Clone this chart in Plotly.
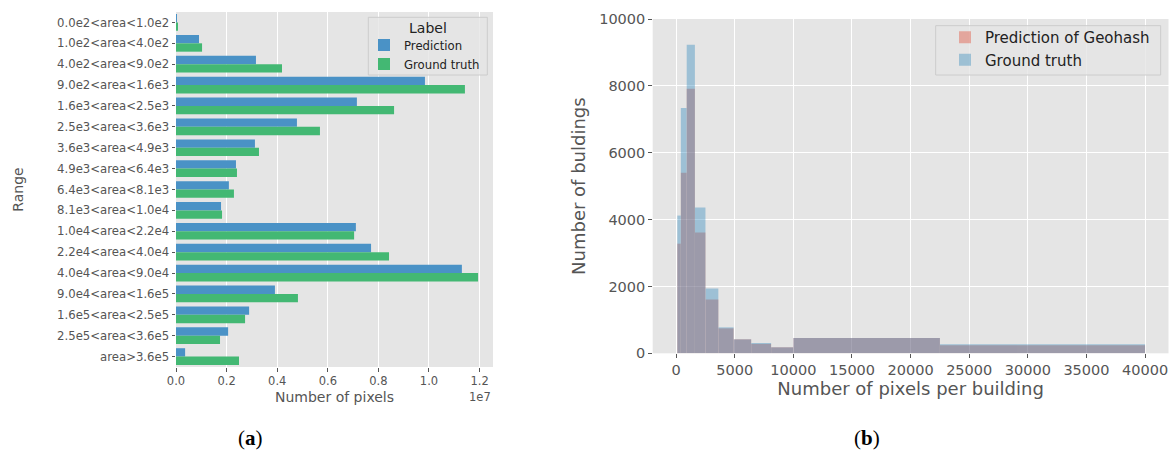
import plotly.graph_objects as go

# ---------------- data: left panel (a) ----------------
ranges = ["0.0e2<area<1.0e2", "1.0e2<area<4.0e2", "4.0e2<area<9.0e2", "9.0e2<area<1.6e3",
          "1.6e3<area<2.5e3", "2.5e3<area<3.6e3", "3.6e3<area<4.9e3", "4.9e3<area<6.4e3",
          "6.4e3<area<8.1e3", "8.1e3<area<1.0e4", "1.0e4<area<2.2e4", "2.2e4<area<4.0e4",
          "4.0e4<area<9.0e4", "9.0e4<area<1.6e5", "1.6e5<area<2.5e5", "2.5e5<area<3.6e5",
          "area>3.6e5"]
prediction_pixels = [0.02e6, 0.91e6, 3.16e6, 9.84e6, 7.15e6, 4.78e6, 3.12e6, 2.37e6, 2.09e6,
                     1.78e6, 7.11e6, 7.71e6, 11.30e6, 3.91e6, 2.89e6, 2.06e6, 0.36e6]
groundtruth_pixels = [0.06e6, 1.03e6, 4.19e6, 11.42e6, 8.62e6, 5.69e6, 3.28e6, 2.41e6, 2.29e6,
                      1.82e6, 7.04e6, 8.42e6, 11.94e6, 4.82e6, 2.73e6, 1.74e6, 2.49e6]
left_xticks = [0, 0.2e7, 0.4e7, 0.6e7, 0.8e7, 1.0e7, 1.2e7]
left_xticklabels = ["0.0", "0.2", "0.4", "0.6", "0.8", "1.0", "1.2"]

# ---------------- data: right panel (b) ----------------
bin_edges = [100, 400, 900, 1600, 2500, 3600, 4900, 6400, 8100, 10000, 22500, 40000]
geohash_counts = [3280, 5400, 7910, 3610, 1610, 746, 418, 280, 179, 457, 239]
truth_counts = [4120, 7340, 9230, 4360, 1940, 776, 418, 308, 179, 457, 269]
right_xticks = [0, 5000, 10000, 15000, 20000, 25000, 30000, 35000, 40000]
right_yticks = [0, 2000, 4000, 6000, 8000, 10000]

BLUE = "#4A92C6"
GREEN = "#43B873"
RED = "#E24A33"
HBLUE = "#348ABD"
BG = "#E5E5E5"
TXT = "#555555"
FONT = "DejaVu Sans"

fig = go.Figure()

# left grouped horizontal bars
fig.add_trace(go.Bar(
    y=ranges, x=prediction_pixels, orientation="h", name="Prediction",
    marker=dict(color=BLUE, line=dict(width=0)), width=0.4, offset=-0.4,
    xaxis="x", yaxis="y", legend="legend"))
fig.add_trace(go.Bar(
    y=ranges, x=groundtruth_pixels, orientation="h", name="Ground truth",
    marker=dict(color=GREEN, line=dict(width=0)), width=0.4, offset=0.0,
    xaxis="x", yaxis="y", legend="legend"))

# right overlaid histogram (variable bin widths)
widths = [b - a for a, b in zip(bin_edges[:-1], bin_edges[1:])]
fig.add_trace(go.Bar(
    x=bin_edges[:-1], y=geohash_counts, width=widths, offset=0,
    name="Prediction of Geohash", marker=dict(color=RED, line=dict(width=0)),
    opacity=0.4, xaxis="x2", yaxis="y2", legend="legend2"))
fig.add_trace(go.Bar(
    x=bin_edges[:-1], y=truth_counts, width=widths, offset=0,
    name="Ground truth", marker=dict(color=HBLUE, line=dict(width=0)),
    opacity=0.4, xaxis="x2", yaxis="y2", legend="legend2"))

W, H = 1173, 454

def px_x(p):
    return p / W

def px_y(p):
    return 1 - p / H

# legend frames (matplotlib-style boxes)
legend_boxes = [
    dict(type="rect", xref="paper", yref="paper",
         x0=px_x(368.3), x1=px_x(487.3), y0=px_y(75), y1=px_y(17.3),
         fillcolor="rgba(229,229,229,0.8)", line=dict(color="#CCCCCC", width=1), layer="above"),
    dict(type="rect", xref="paper", yref="paper",
         x0=px_x(935.7), x1=px_x(1160.7), y0=px_y(75), y1=px_y(25.7),
         fillcolor="rgba(229,229,229,0.8)", line=dict(color="#CCCCCC", width=1), layer="above"),
]

fig.update_layout(
    width=W, height=H, autosize=False,
    margin=dict(l=0, r=0, t=0, b=0, pad=0, autoexpand=False),
    paper_bgcolor="white", plot_bgcolor=BG,
    font=dict(family=FONT, color=TXT),
    barmode="overlay",
    xaxis=dict(
        domain=[px_x(176), px_x(493)], anchor="y", automargin=False,
        range=[0, 1.253e7], tickvals=left_xticks, ticktext=left_xticklabels,
        showgrid=True, gridcolor="white", gridwidth=1.3, zeroline=False,
        ticks="outside", ticklen=3.5, tickcolor=TXT, tickwidth=1,
        tickfont=dict(size=11.5, color=TXT, family=FONT),
        title=dict(text="Number of pixels", font=dict(size=14, color=TXT, family=FONT), standoff=4),
        showline=False,
    ),
    yaxis=dict(
        domain=[px_y(367), px_y(12)], anchor="x", automargin=False,
        type="category", range=[16.5, -0.5],
        tickvals=ranges, ticktext=[r.replace("<", "&lt;").replace(">", "&gt;") for r in ranges],
        showgrid=False, zeroline=False,
        ticks="outside", ticklen=3.5, tickcolor=TXT, tickwidth=1,
        tickfont=dict(size=11.7, color=TXT, family=FONT),
        title=dict(text="Range", font=dict(size=14, color=TXT, family=FONT), standoff=30),
    ),
    xaxis2=dict(
        domain=[px_x(652.7), px_x(1168.5)], anchor="y2", automargin=False,
        range=[-2000, 42000], tickvals=right_xticks, tickformat="d",
        showgrid=True, gridcolor="white", gridwidth=1.3, zeroline=False,
        ticks="outside", ticklen=3.5, tickcolor=TXT, tickwidth=1,
        tickfont=dict(size=14.5, color=TXT, family=FONT),
        title=dict(text="Number of pixels per building", font=dict(size=18, color=TXT, family=FONT), standoff=2),
    ),
    yaxis2=dict(
        domain=[px_y(353.3), px_y(19)], anchor="x2", automargin=False,
        range=[0, 10000], tickvals=right_yticks, tickformat="d",
        showgrid=True, gridcolor="white", gridwidth=1.3, zeroline=False,
        ticks="outside", ticklen=3.5, tickcolor=TXT, tickwidth=1,
        tickfont=dict(size=14.5, color=TXT, family=FONT),
        title=dict(text="Number of buldings", font=dict(size=18, color=TXT, family=FONT), standoff=8),
    ),
    legend=dict(
        x=px_x(364), y=px_y(30.5), xanchor="left", yanchor="top",
        bgcolor="rgba(0,0,0,0)", borderwidth=0,
        font=dict(size=11.7, color="#222222", family=FONT),
        traceorder="normal", itemwidth=30, tracegroupgap=0,
    ),
    legend2=dict(
        x=px_x(945), y=px_y(21), xanchor="left", yanchor="top",
        bgcolor="rgba(0,0,0,0)", borderwidth=0,
        font=dict(size=15, color="#222222", family=FONT),
        traceorder="normal", itemwidth=30, tracegroupgap=0,
    ),
    shapes=legend_boxes,
    annotations=[
        dict(text="Label", x=px_x(427.8), y=px_y(28.5), xref="paper", yref="paper",
             xanchor="center", yanchor="middle", showarrow=False,
             font=dict(size=14, color="#222222", family=FONT)),
        dict(text="1e7", x=px_x(493), y=px_y(397), xref="paper", yref="paper",
             xanchor="right", yanchor="middle", showarrow=False,
             font=dict(size=11.5, color=TXT, family=FONT)),
        dict(text="(<b>a</b>)", x=px_x(250), y=px_y(438), xref="paper", yref="paper",
             xanchor="center", yanchor="middle", showarrow=False,
             font=dict(size=21, color="black", family="Liberation Serif")),
        dict(text="(<b>b</b>)", x=px_x(867), y=px_y(438), xref="paper", yref="paper",
             xanchor="center", yanchor="middle", showarrow=False,
             font=dict(size=21, color="black", family="Liberation Serif")),
    ],
)

fig.write_html(
    "out.html",
    config={"displayModeBar": False},
    post_script=("document.body.style.margin='0';document.body.style.overflow='hidden';"
                 "var d=document.getElementById('{plot_id}');d.style.position='absolute';"
                 "d.style.left='0px';d.style.top='0px';"),
)
